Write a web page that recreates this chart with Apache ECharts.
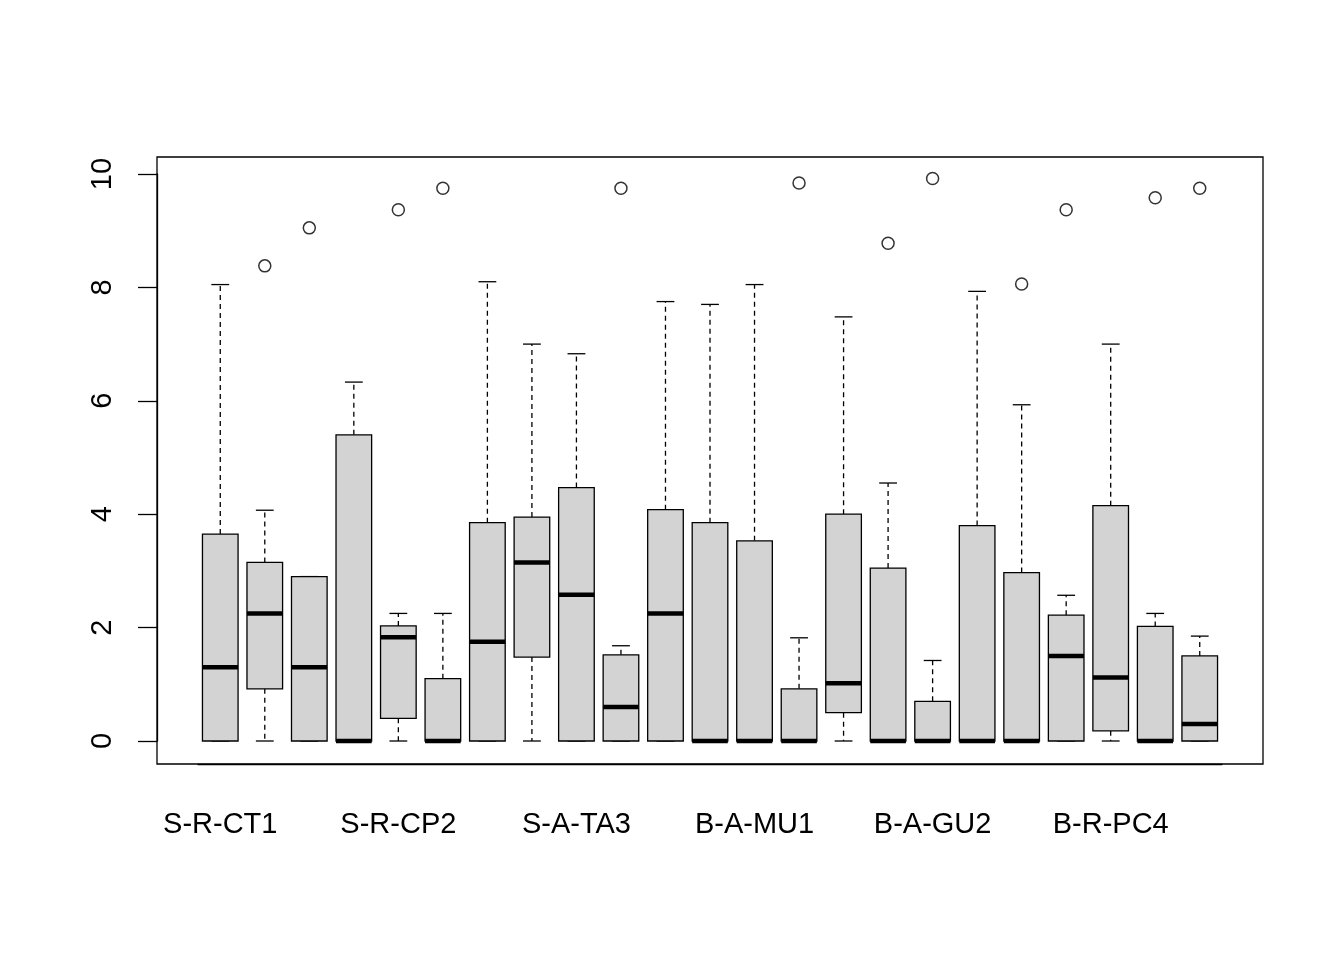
<!DOCTYPE html>
<html>
<head>
<meta charset="utf-8">
<script src="https://cdn.jsdelivr.net/npm/echarts@6/dist/echarts.min.js"></script>
<style>html,body{margin:0;background:#fff}#chart{width:1344px;height:960px}</style>
</head>
<body>
<div id="chart"></div>
<script>
// category labels (only those R printed)
var labels = ['S-R-CT1','','','','S-R-CP2','','','','S-A-TA3','','','','B-A-MU1','','','','B-A-GU2','','','','B-R-PC4','',''];
// [min, q1, median, q3, max]
var lowers  = [0,0,0,0,0,0,0,0,0,0,0,0,0,0,0,0,0,0,0,0,0,0,0];
var q1s     = [0,0.92,0,0,0.4,0,0,1.48,0,0,0,0,0,0,0.5,0,0,0,0,0,0.18,0,0];
var medians = [1.3,2.25,1.3,0,1.83,0,1.75,3.15,2.58,0.6,2.25,0,0,0,1.02,0,0,0,0,1.5,1.12,0,0.3];
var q3s     = [3.65,3.15,2.9,5.4,2.03,1.1,3.85,3.95,4.47,1.52,4.08,3.85,3.53,0.92,4.0,3.05,0.7,3.8,2.97,2.22,4.15,2.02,1.5];
var uppers  = [8.05,4.07,2.9,6.33,2.25,2.25,8.1,7.0,6.83,1.68,7.75,7.7,8.05,1.82,7.48,4.55,1.42,7.93,5.93,2.57,7.0,2.25,1.85];
// outliers: [box index, value]
var outliers = [[1,8.38],[2,9.05],[4,9.37],[5,9.75],[9,9.75],[13,9.84],[15,8.78],[16,9.92],[18,8.06],[19,9.37],[21,9.58],[22,9.75]];

var boxData = labels.map(function (l, i) {
    return [i, lowers[i], q1s[i], medians[i], q3s[i], uppers[i]];
});

var chart = echarts.init(document.getElementById('chart'));
var font = 'Liberation Sans, Arial, sans-serif';

function renderBox(params, api) {
    var i = api.value(0);
    var w = api.size([1, 0])[0] * 0.8;
    var cx = api.coord([i, 0])[0];
    var yLo = api.coord([i, api.value(1)])[1];
    var yQ1 = api.coord([i, api.value(2)])[1];
    var yMed = api.coord([i, api.value(3)])[1];
    var yQ3 = api.coord([i, api.value(4)])[1];
    var yHi = api.coord([i, api.value(5)])[1];
    var dash = {stroke: '#000', lineWidth: 1.3, lineDash: [5, 4]};
    var solid = {stroke: '#000', lineWidth: 1.3};
    return {
        type: 'group',
        children: [
            {type: 'line', shape: {x1: cx, y1: yQ3, x2: cx, y2: yHi}, style: dash},
            {type: 'line', shape: {x1: cx, y1: yQ1, x2: cx, y2: yLo}, style: dash},
            {type: 'line', shape: {x1: cx - w / 4, y1: yHi, x2: cx + w / 4, y2: yHi}, style: solid},
            {type: 'line', shape: {x1: cx - w / 4, y1: yLo, x2: cx + w / 4, y2: yLo}, style: solid},
            {type: 'rect', shape: {x: cx - w / 2, y: yQ3, width: w, height: yQ1 - yQ3},
                style: {fill: '#d3d3d3', stroke: '#000', lineWidth: 1.3}},
            {type: 'line', shape: {x1: cx - w / 2, y1: yMed, x2: cx + w / 2, y2: yMed},
                style: {stroke: '#000', lineWidth: 4.5}}
        ]
    };
}

chart.setOption({
    animation: false,
    backgroundColor: '#fff',
    graphic: [{
        type: 'rect', shape: {x: 157, y: 157, width: 1106, height: 607},
        style: {fill: null, stroke: '#000', lineWidth: 1.3}, silent: true
    }],
    grid: {left: 198, right: 122, top: 174, bottom: 219},
    xAxis: {
        type: 'category',
        data: labels,
        offset: 23,
        boundaryGap: true,
        axisLine: {onZero: false, lineStyle: {color: '#000', width: 1.3}},
        axisTick: {alignWithLabel: true, length: 19, interval: 0, lineStyle: {color: '#000', width: 1.3}},
        axisLabel: {interval: 0, margin: 46, color: '#000', fontSize: 29, fontFamily: font},
        splitLine: {show: false}
    },
    yAxis: {
        type: 'value',
        min: 0, max: 10, interval: 2,
        offset: 41,
        axisLine: {show: true, onZero: false, lineStyle: {color: '#000', width: 1.3}},
        axisTick: {show: true, length: 19, lineStyle: {color: '#000', width: 1.3}},
        axisLabel: {rotate: 90, margin: 40, color: '#000', fontSize: 29, fontFamily: font},
        splitLine: {show: false}
    },
    series: [{
        type: 'custom',
        renderItem: renderBox,
        encode: {x: 0, y: [1, 2, 3, 4, 5]},
        data: boxData
    }, {
        type: 'scatter',
        symbol: 'circle',
        symbolSize: 12,
        itemStyle: {color: '#fff', borderColor: '#000', borderWidth: 1.5},
        data: outliers
    }]
});
</script>
</body>
</html>
